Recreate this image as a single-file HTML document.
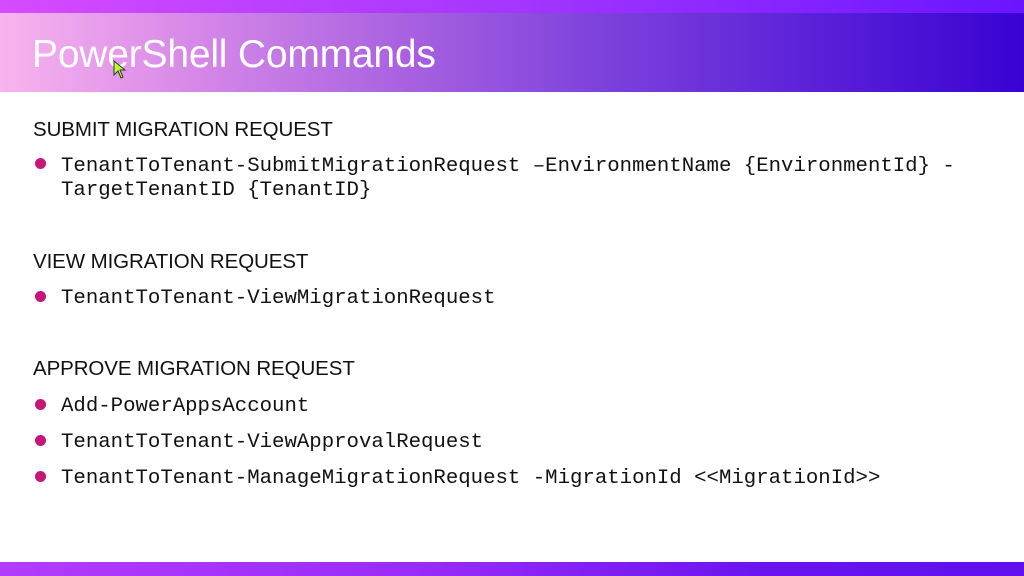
<!DOCTYPE html>
<html><head><meta charset="utf-8"><style>
html,body{margin:0;padding:0;}
body{width:1024px;height:576px;position:relative;overflow:hidden;background:#fff;font-family:"Liberation Sans",sans-serif;}
.top{position:absolute;left:0;top:0;width:1024px;height:13px;background:linear-gradient(90deg,#d64bff,#a436ff 50%,#6a14ff);}
.hdr{position:absolute;left:0;top:13px;width:1024px;height:79px;background:linear-gradient(90deg,#f8b4ee 0%,#d88ae8 18%,#a860e0 40%,#7a40dc 60%,#5a20d8 80%,#3a02d2 100%);}
.title{position:absolute;left:32px;top:31px;font-size:39px;color:#fff;line-height:48px;letter-spacing:-0.2px;}
.bot{position:absolute;left:0;top:562px;width:1024px;height:14px;background:linear-gradient(90deg,#b23cfb,#9a2cf8 40%,#6a14ef 75%,#5f10ee);}
.h{position:absolute;left:33px;font-size:20.5px;color:#111;line-height:24px;letter-spacing:-0.1px;}
.m{position:absolute;left:61px;font-family:"Liberation Mono",monospace;font-size:20.7px;color:#111;line-height:24px;}
.d{position:absolute;left:35px;width:11px;height:11px;border-radius:50%;background:#c8157a;}
</style></head><body>
<div class="top"></div>
<div class="hdr"></div>
<div class="title">PowerShell Commands</div>
<svg style="position:absolute;left:113px;top:60px" width="16" height="20"><path d="M1 1 L1 15 L5 11 L8 18 L10 17 L7 10 L12 10 Z" fill="#b8ff30" stroke="#333" stroke-width="1"/></svg>

<div class="h" style="top:118px">SUBMIT MIGRATION REQUEST</div>
<div class="d" style="top:158px"></div>
<div class="m" style="top:155px">TenantToTenant-SubmitMigrationRequest –EnvironmentName {EnvironmentId} -</div>
<div class="m" style="top:179px">TargetTenantID {TenantID}</div>

<div class="h" style="top:250px">VIEW MIGRATION REQUEST</div>
<div class="d" style="top:291px"></div>
<div class="m" style="top:287px">TenantToTenant-ViewMigrationRequest</div>

<div class="h" style="top:357px">APPROVE MIGRATION REQUEST</div>
<div class="d" style="top:399px"></div>
<div class="m" style="top:395px">Add-PowerAppsAccount</div>
<div class="d" style="top:435px"></div>
<div class="m" style="top:431px">TenantToTenant-ViewApprovalRequest</div>
<div class="d" style="top:471px"></div>
<div class="m" style="top:467px">TenantToTenant-ManageMigrationRequest -MigrationId &lt;&lt;MigrationId&gt;&gt;</div>

<div class="bot"></div>
</body></html>
